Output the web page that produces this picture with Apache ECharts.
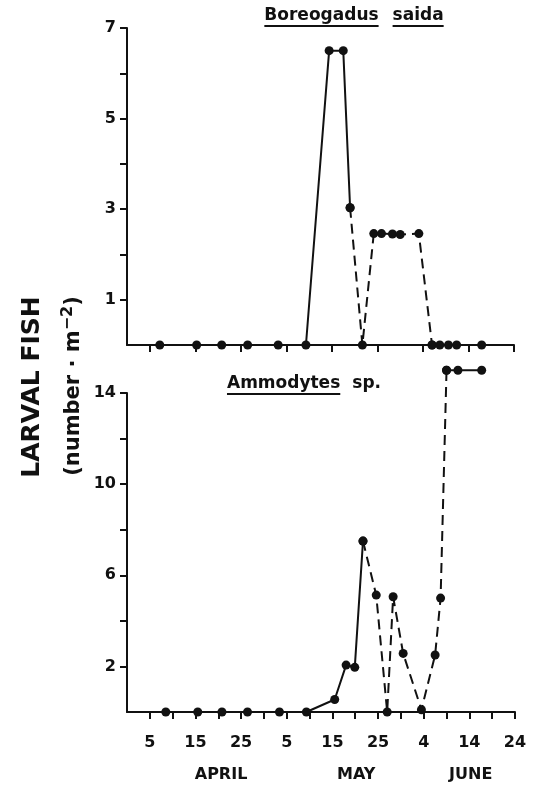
<!DOCTYPE html>
<html>
<head>
<meta charset="utf-8">
<script src="https://cdn.jsdelivr.net/npm/echarts@6/dist/echarts.min.js"></script>
<style>html,body{margin:0;padding:0;background:#fff}#c{width:535px;height:785px}</style>
</head>
<body>
<div id="c"></div>
<script>
// ---- axis ticks & labels (day counted from March 31) ----
const xTickValuesTop = [5, 15, 25, 35, 45, 55, 65, 75, 85];
const xTickValuesBottom = [5, 10, 15, 20, 25, 30, 35, 40, 45, 50, 55, 60, 65, 70, 75, 80, 85];
const xLabelValues = [5, 15, 25, 35, 45, 55, 65, 75, 85];
const xLabelTexts = ['5', '15', '25', '5', '15', '25', '4', '14', '24'];
const monthNames = ['APRIL', 'MAY', 'JUNE'];
const monthCenters = [20.6, 50.2, 75.3];
const topYTicks = [1, 2, 3, 4, 5, 6, 7];
const topYLabels = [1, 3, 5, 7];
const bottomYTicks = [2, 4, 6, 8, 10, 12, 14];
const bottomYLabels = [2, 6, 10, 14];

// ---- Boreogadus saida ----
const boreoSolidA = [[7.2, 0], [15.3, 0], [20.8, 0], [26.5, 0], [33.2, 0], [39.3, 0], [44.4, 6.5], [47.5, 6.5], [49.0, 3.03]];
const boreoDashed = [[49.0, 3.03], [51.7, 0], [54.2, 2.46], [55.9, 2.46], [58.3, 2.45], [60.0, 2.44], [64.1, 2.46], [67.0, 0]];
const boreoSolidB = [[67.0, 0], [68.7, 0], [70.6, 0], [72.4, 0], [77.9, 0]];

// ---- Ammodytes sp. ----
const ammoSolidA = [[8.5, 0], [15.5, 0], [20.8, 0], [26.4, 0], [33.4, 0], [39.3, 0], [45.5, 0.55], [48.0, 2.06], [49.9, 1.96], [51.7, 7.5]];
const ammoDashed = [[51.7, 7.5], [54.6, 5.13], [57.0, 0], [58.3, 5.06], [60.5, 2.57], [64.5, 0.1], [67.5, 2.5], [68.7, 5.0], [70.0, 15]];
const ammoSolidB = [[70.0, 15], [72.5, 15], [77.7, 15]];

const FONT = 'DejaVu Sans';
const INK = '#111';

function labelFor(values, texts) {
  return function (v) {
    for (let i = 0; i < values.length; i++) {
      if (Math.abs(values[i] - v) < 1e-6) return texts[i];
    }
    return '';
  };
}

function measure(text, font) {
  const c = document.createElement('canvas').getContext('2d');
  c.font = font;
  return c.measureText(text).width;
}

const chart = echarts.init(document.getElementById('c'), null, { renderer: 'canvas' });

const axisLineStyle = { color: INK, width: 2 };
const tickStyle = { color: INK, width: 2 };
const labelStyle = { color: INK, fontFamily: FONT, fontWeight: 'bold', fontSize: 16 };

function lineSeries(data, xi, yi, dashed) {
  return {
    type: 'line',
    xAxisIndex: xi,
    yAxisIndex: yi,
    data: data,
    symbol: 'circle',
    symbolSize: 9,
    clip: false,
    itemStyle: { color: INK },
    lineStyle: { color: INK, width: 2, type: dashed ? [10, 6] : 'solid' },
    emphasis: { disabled: true },
    z: 3
  };
}

const option = {
  animation: false,
  backgroundColor: '#fff',
  grid: [
    { left: 127, top: 28, width: 387, height: 317, outerBoundsMode: 'none', containLabel: false },
    { left: 127, top: 393, width: 388, height: 319, outerBoundsMode: 'none', containLabel: false }
  ],
  xAxis: [
    {
      gridIndex: 0, type: 'value', min: 0, max: 85,
      axisLine: { show: true, lineStyle: axisLineStyle, onZero: false },
      axisTick: { show: true, length: 7, lineStyle: tickStyle, customValues: xTickValuesTop },
      axisLabel: { show: false },
      splitLine: { show: false }
    },
    {
      gridIndex: 1, type: 'value', min: 0, max: 85,
      axisLine: { show: true, lineStyle: axisLineStyle, onZero: false },
      axisTick: { show: true, length: 7, lineStyle: tickStyle, customValues: xTickValuesBottom },
      axisLabel: Object.assign({ margin: 23, customValues: xLabelValues, formatter: labelFor(xLabelValues, xLabelTexts) }, labelStyle),
      splitLine: { show: false }
    },
    {
      gridIndex: 1, type: 'value', min: 0, max: 85, position: 'bottom',
      axisLine: { show: false },
      axisTick: { show: false },
      axisLabel: Object.assign({ margin: 55, customValues: monthCenters, formatter: labelFor(monthCenters, monthNames) }, labelStyle),
      splitLine: { show: false }
    }
  ],
  yAxis: [
    {
      gridIndex: 0, type: 'value', min: 0, max: 7,
      axisLine: { show: true, lineStyle: axisLineStyle, onZero: false },
      axisTick: { show: true, length: 7, lineStyle: tickStyle, customValues: topYTicks },
      axisLabel: Object.assign({ margin: 11, customValues: topYLabels }, labelStyle),
      splitLine: { show: false }
    },
    {
      gridIndex: 1, type: 'value', min: 0, max: 14,
      axisLine: { show: true, lineStyle: axisLineStyle, onZero: false },
      axisTick: { show: true, length: 7, lineStyle: tickStyle, customValues: bottomYTicks },
      axisLabel: Object.assign({ margin: 11, customValues: bottomYLabels }, labelStyle),
      splitLine: { show: false }
    }
  ],
  series: [
    lineSeries(boreoSolidA, 0, 0, false),
    lineSeries(boreoDashed, 0, 0, true),
    lineSeries(boreoSolidB, 0, 0, false),
    lineSeries(ammoSolidA, 1, 1, false),
    lineSeries(ammoDashed, 1, 1, true),
    lineSeries(ammoSolidB, 1, 1, false)
  ]
};
chart.setOption(option);

// ---- titles with underlines, and the shared y-axis title ----
const titleFont = 'bold 17px "DejaVu Sans"';
const wBoreo = measure('Boreogadus', titleFont);
const wSaida = measure('saida', titleFont);
const wAmmo = measure('Ammodytes', titleFont);
const wSp = measure('sp.', titleFont);
const gapTop = 14, gapBot = 12;
const boreoLeft = 354 - (wBoreo + gapTop + wSaida) / 2;
const ammoLeft = 304 - (wAmmo + gapBot + wSp) / 2;

function tText(x, y, text) {
  return {
    type: 'text', x: x, y: y, z: 10,
    style: { text: text, fill: INK, font: titleFont, textAlign: 'left', textVerticalAlign: 'middle' }
  };
}
function uRect(x, y, w) {
  return { type: 'rect', z: 10, shape: { x: x, y: y, width: w, height: 2 }, style: { fill: INK } };
}

chart.setOption({
  graphic: [
    tText(boreoLeft, 16, 'Boreogadus'),
    tText(boreoLeft + wBoreo + gapTop, 16, 'saida'),
    uRect(boreoLeft, 25, wBoreo),
    uRect(boreoLeft + wBoreo + gapTop, 25, wSaida),
    tText(ammoLeft, 384, 'Ammodytes'),
    tText(ammoLeft + wAmmo + gapBot, 384, 'sp.'),
    uRect(ammoLeft, 393, wAmmo),
    {
      type: 'text', x: 32, y: 387, rotation: Math.PI / 2, z: 10,
      style: { text: 'LARVAL FISH', fill: INK, font: 'bold 25px "DejaVu Sans"', textAlign: 'center', textVerticalAlign: 'middle' }
    },
    {
      type: 'text', x: 74, y: 386, rotation: Math.PI / 2, z: 10,
      style: {
        text: '(number · m{sup|−2})',
        fill: INK, font: 'bold 21px "DejaVu Sans"', textAlign: 'center', textVerticalAlign: 'middle',
        rich: {
          sup: { fontFamily: FONT, fontWeight: 'bold', fontSize: 16, fill: INK, verticalAlign: 'bottom', padding: [0, 0, 12, 0] }
        }
      }
    }
  ]
});
</script>
</body>
</html>
